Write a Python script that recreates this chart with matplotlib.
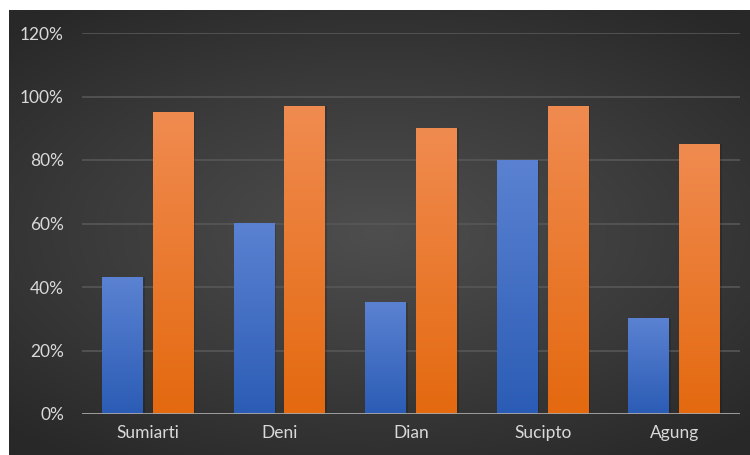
import matplotlib.pyplot as plt
import numpy as np
from matplotlib.colors import LinearSegmentedColormap

names = ['Sumiarti', 'Deni', 'Dian', 'Sucipto', 'Agung']
blue_vals = [43, 60, 35, 80, 30]
orange_vals = [95, 97, 90, 97, 85]
y_ticks = [0, 20, 40, 60, 80, 100, 120]

W, H = 750, 455
fig = plt.figure(figsize=(W / 100, H / 100), dpi=100)
fig.patch.set_facecolor('white')

# dark radial background
bg = fig.add_axes([9 / W, 0, 1 - 9 / W, (H - 10) / H])
yy, xx = np.mgrid[-1:1:300j, -1:1:500j]
r = np.sqrt((xx * 0.85) ** 2 + (yy * 1.0) ** 2)
bg_cmap = LinearSegmentedColormap.from_list('bg', ['#4e4e4e', '#3c3c3c', '#282828'])
bg.imshow(r, cmap=bg_cmap, aspect='auto', extent=(0, 1, 0, 1), vmin=0, vmax=1.25)
bg.axis('off')

x0, x1 = 82, 740
ytop, ybot = 33, 414
ax = fig.add_axes([x0 / W, (H - ybot) / H, (x1 - x0) / W, (ybot - ytop) / H])
ax.patch.set_alpha(0)
ax.set_xlim(-0.5, 4.5)
ax.set_ylim(0, 120)

for t in y_ticks[1:]:
    ax.axhline(t, color='#575757', lw=1.2, zorder=1)
ax.axhline(0, color='#a6a6a6', lw=1.3, zorder=4)

blue_cmap = LinearSegmentedColormap.from_list('b', ['#2b5cb5', '#5b82d2'])
orange_cmap = LinearSegmentedColormap.from_list('o', ['#e4690f', '#f08b50'])

bw = 0.31
off = 0.193
grad = np.linspace(0, 1, 256).reshape(-1, 1)

def grad_bar(xc, h, cmap):
    # soft shadow
    ax.bar(xc + 0.008, h, width=bw + 0.012, bottom=0, color='black', alpha=0.15, zorder=2)
    ax.imshow(grad, cmap=cmap, aspect='auto', origin='lower',
              extent=(xc - bw / 2, xc + bw / 2, 0, h), zorder=3, interpolation='bilinear')

for i in range(len(names)):
    grad_bar(i - off, blue_vals[i], blue_cmap)
    grad_bar(i + off, orange_vals[i], orange_cmap)

ax.set_xlim(-0.5, 4.5)
ax.set_ylim(0, 120)
ax.set_yticks(y_ticks)
ax.set_yticklabels([f'{t}%' for t in y_ticks])
ax.set_xticks(range(len(names)))
ax.set_xticklabels(names)
ax.tick_params(length=0, colors='#d9d9d9', labelsize=12.5)
ax.tick_params(axis='y', pad=13)
ax.tick_params(axis='x', pad=8)
for lab in ax.get_xticklabels() + ax.get_yticklabels():
    lab.set_family('Lato')
for s in ax.spines.values():
    s.set_visible(False)

fig.savefig('out.png', dpi=100, facecolor='white')
